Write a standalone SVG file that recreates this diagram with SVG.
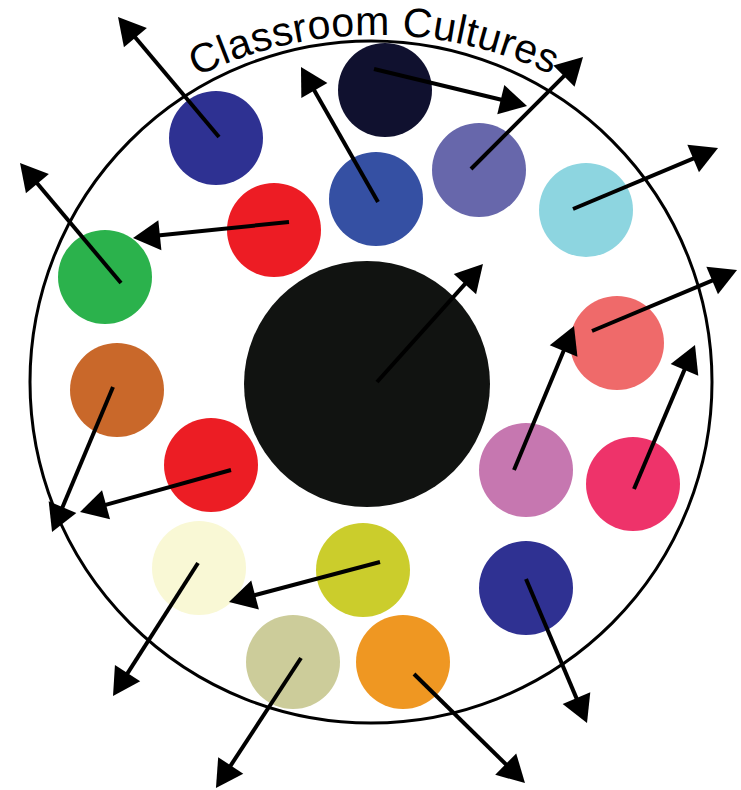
<svg xmlns="http://www.w3.org/2000/svg" width="741" height="790" viewBox="0 0 741 790">
<style>
.dot{stroke:none}
.arr{stroke:#000;stroke-width:4;fill:none;marker-end:url(#ah)}
.ring{fill:none;stroke:#000;stroke-width:3}
.title{font-family:"Liberation Sans",Arial,sans-serif;font-size:41px;letter-spacing:0.4px;fill:#000}
</style>
<defs>
<marker id="ah" markerUnits="userSpaceOnUse" viewBox="-10 -20 40 40" markerWidth="40" markerHeight="40" refX="0" refY="0" orient="auto" overflow="visible">
<path d="M20,0 L-7,-15 L-7,15 Z" fill="#000"/>
</marker>
<path id="arcText" d="M-31,442 A407,407 0 0 1 783,442"/>
</defs>
<rect width="741" height="790" fill="#fff"/>
<g id="ring"><circle class="ring" cx="371" cy="382" r="341"/></g>
<g id="title"><text class="title"><textPath href="#arcText" startOffset="637" text-anchor="middle">Classroom Cultures</textPath></text></g>
<g id="n-darkblue"><circle class="dot" cx="216" cy="138" r="47" fill="#2e3192"/></g>
<g id="n-navy"><circle class="dot" cx="385" cy="90" r="47" fill="#10112f"/></g>
<g id="n-purple"><circle class="dot" cx="479" cy="170" r="47" fill="#6767ab"/></g>
<g id="n-blue"><circle class="dot" cx="376" cy="199" r="47" fill="#3550a3"/></g>
<g id="n-cyan"><circle class="dot" cx="586" cy="210" r="47" fill="#8dd5e0"/></g>
<g id="n-red1"><circle class="dot" cx="274" cy="230" r="47" fill="#ed1c24"/></g>
<g id="n-green"><circle class="dot" cx="105" cy="277" r="47" fill="#2bb24c"/></g>
<g id="n-black"><circle class="dot" cx="367" cy="384" r="123" fill="#111311"/></g>
<g id="n-salmon"><circle class="dot" cx="617" cy="343" r="47" fill="#ef6a6a"/></g>
<g id="n-brown"><circle class="dot" cx="117" cy="390" r="47" fill="#c9682a"/></g>
<g id="n-red2"><circle class="dot" cx="211" cy="465" r="47" fill="#ec1d24"/></g>
<g id="n-orchid"><circle class="dot" cx="526" cy="470" r="47" fill="#c677b0"/></g>
<g id="n-magenta"><circle class="dot" cx="633" cy="484" r="47" fill="#ee336a"/></g>
<g id="n-cream"><circle class="dot" cx="199" cy="568" r="47" fill="#f9f8d5"/></g>
<g id="n-olive"><circle class="dot" cx="363" cy="570" r="47" fill="#cbcd2c"/></g>
<g id="n-navy2"><circle class="dot" cx="526" cy="588" r="47" fill="#2f3192"/></g>
<g id="n-khaki"><circle class="dot" cx="293" cy="662" r="47" fill="#cccc9a"/></g>
<g id="n-orange"><circle class="dot" cx="403" cy="662" r="47" fill="#ef9722"/></g>
<g id="connectors">
<line class="arr" x1="219" y1="137" x2="130.9" y2="32.3"/>
<line class="arr" x1="374" y1="69" x2="507.6" y2="101.3"/>
<line class="arr" x1="378" y1="202" x2="310.9" y2="84.4"/>
<line class="arr" x1="471" y1="169" x2="568.9" y2="71.1"/>
<line class="arr" x1="573" y1="209" x2="699.6" y2="155.8"/>
<line class="arr" x1="289" y1="222" x2="152.9" y2="236"/>
<line class="arr" x1="121" y1="283" x2="32.9" y2="178.3"/>
<line class="arr" x1="377" y1="382" x2="469.6" y2="278.9"/>
<line class="arr" x1="592" y1="331" x2="718.6" y2="277.8"/>
<line class="arr" x1="514" y1="470" x2="566.3" y2="344.5"/>
<line class="arr" x1="634" y1="489" x2="687.2" y2="363.4"/>
<line class="arr" x1="113" y1="387" x2="59.8" y2="513.6"/>
<line class="arr" x1="231" y1="470" x2="99.3" y2="506.6"/>
<line class="arr" x1="380" y1="562" x2="248.3" y2="596.9"/>
<line class="arr" x1="198" y1="563" x2="123.8" y2="679.1"/>
<line class="arr" x1="301" y1="658" x2="226.9" y2="771.3"/>
<line class="arr" x1="414" y1="674" x2="510.7" y2="769"/>
<line class="arr" x1="526" y1="579" x2="579.2" y2="704.6"/>
</g>
</svg>
